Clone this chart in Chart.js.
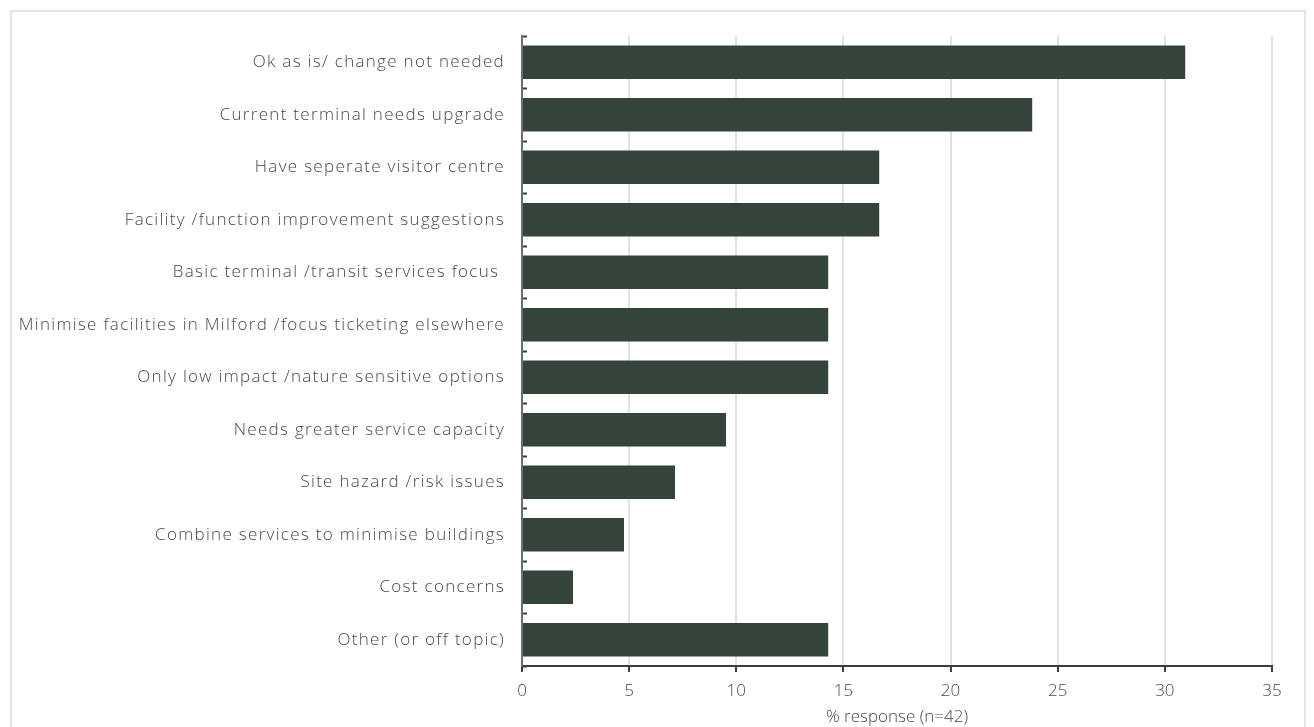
<!DOCTYPE html>
<html>
<head>
<meta charset="utf-8">
<script src="https://cdn.jsdelivr.net/npm/chart.js@4/dist/chart.umd.min.js"></script>
<style>
  html, body { margin: 0; padding: 0; background: #ffffff; }
  #wrap { position: relative; width: 1314px; height: 727px; overflow: hidden; }
  #frame { position: absolute; left: 10px; top: 10px; width: 1296px; height: 740px;
           border: 2px solid #dfe6e3; box-sizing: border-box; }
  #c { position: absolute; left: 0; top: 0; }
</style>
</head>
<body>
<div id="wrap">
  <div id="frame"></div>
  <canvas id="c" width="1314" height="727"></canvas>
</div>
<script>
// Coded open-response themes and share of respondents (%)
const themes = [
  'Ok as is/ change not needed',
  'Current terminal needs upgrade',
  'Have seperate visitor centre',
  'Facility /function improvement suggestions',
  'Basic terminal /transit services focus ',
  'Minimise facilities in Milford /focus ticketing elsewhere',
  'Only low impact /nature sensitive options',
  'Needs greater service capacity',
  'Site hazard /risk issues',
  'Combine services to minimise buildings',
  'Cost concerns',
  'Other (or off topic)'
];
const responsePct = [30.95, 23.81, 16.67, 16.67, 14.29, 14.29, 14.29, 9.52, 7.14, 4.76, 2.38, 14.29];
const xTicks = [0, 5, 10, 15, 20, 25, 30, 35];
const xTitle = '% response (n=42)';

const FONT = "'Open Sans', 'Noto Sans', sans-serif";
const TEXT = '#444a47';

// Widen the lettering of the category labels, which are drawn after the bars (z: 1)
const letterSpacingPlugin = {
  id: 'letterSpacing',
  afterDatasetsDraw(chart) { chart.ctx.letterSpacing = '1.3px'; },
  afterDraw(chart) { chart.ctx.letterSpacing = '0px'; }
};

new Chart(document.getElementById('c'), {
  type: 'bar',
  data: {
    labels: themes,
    datasets: [{
      data: responsePct,
      backgroundColor: '#34443b',
      borderWidth: 0,
      barPercentage: 0.64,
      categoryPercentage: 1.0
    }]
  },
  plugins: [letterSpacingPlugin],
  options: {
    indexAxis: 'y',
    responsive: false,
    animation: false,
    devicePixelRatio: 1,
    layout: { padding: { left: 0, right: 42, top: 36, bottom: 0 } },
    plugins: { legend: { display: false }, tooltip: { enabled: false } },
    scales: {
      x: {
        min: xTicks[0],
        max: xTicks[xTicks.length - 1],
        afterBuildTicks: s => { s.ticks = xTicks.map(v => ({ value: v })); },
        afterFit: s => { s.height = 61; },
        border: { display: true, color: '#3a3f3c', width: 2, z: 1 },
        grid: { color: '#dde4e1', lineWidth: 2, drawTicks: true, tickLength: 6, tickColor: '#3a3f3c', tickWidth: 2, z: 0 },
        ticks: { color: TEXT, font: { family: FONT, size: 17, weight: '300' }, padding: 9 },
        title: { display: true, text: xTitle, color: TEXT, font: { family: FONT, size: 17, weight: '300' }, padding: { top: 0, bottom: 0 } }
      },
      y: {
        afterFit: s => { s.width = 522; },
        border: { display: true, color: '#6a706c', width: 2, z: 1 },
        grid: { offset: true, drawOnChartArea: false, drawTicks: true, tickLength: -5, tickColor: '#3a3f3c', tickWidth: 2 },
        ticks: { z: 1, color: TEXT, font: { family: FONT, size: 17, weight: '300' }, padding: 22, autoSkip: false }
      }
    }
  }
});
</script>
</body>
</html>
